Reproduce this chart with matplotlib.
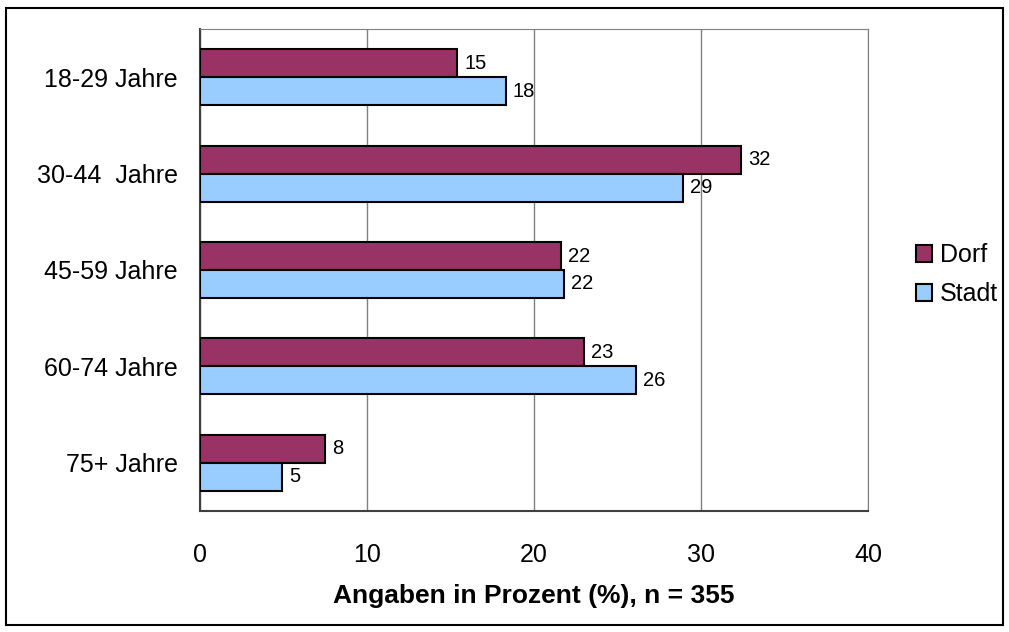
"""
Altersverteilung Dorf vs. Stadt
"""

import matplotlib.pyplot as plt
import numpy as np
from matplotlib.patches import Rectangle

plt.rcParams.update(
    {
        "font.family": ["Liberation Sans", "DejaVu Sans"],
        "font.size": 18,
    }
)

DORF = "#993366"
STADT = "#99CCFF"

categories = ["18-29 Jahre", "30-44  Jahre", "45-59 Jahre", "60-74 Jahre", "75+ Jahre"]
dorf = [15.4, 32.4, 21.6, 23.0, 7.5]
stadt = [18.3, 28.9, 21.8, 26.1, 4.9]
dorf_labels = ["15", "32", "22", "23", "8"]
stadt_labels = ["18", "29", "22", "26", "5"]

fig = plt.figure(figsize=(10.09, 6.32), dpi=100)
ax = fig.add_axes([200 / 1009, 1 - 511 / 632, 668 / 1009, 482 / 632])

y = np.arange(len(categories))
h = 0.29
ax.barh(y - h / 2, dorf, height=h, color=DORF, edgecolor="black", linewidth=1.5, label="Dorf", zorder=3)
ax.barh(y + h / 2, stadt, height=h, color=STADT, edgecolor="black", linewidth=1.5, label="Stadt", zorder=3)

for yi, v, t in zip(y, dorf, dorf_labels):
    ax.annotate(t, (v, yi - h / 2), textcoords="offset points", xytext=(5, 0),
                va="center", ha="left", fontsize=14.5)
for yi, v, t in zip(y, stadt, stadt_labels):
    ax.annotate(t, (v, yi + h / 2), textcoords="offset points", xytext=(5, 0),
                va="center", ha="left", fontsize=14.5)

ax.set_xlim(0, 40)
ax.set_ylim(len(categories) - 0.5, -0.5)
ax.set_yticks(y)
ax.set_yticklabels(categories, fontsize=18)
ax.set_xticks([0, 10, 20, 30, 40])
ax.tick_params(axis="x", labelsize=18, length=0, pad=23)
ax.tick_params(axis="y", length=0, pad=16)
ax.xaxis.grid(True, color="#808080", linewidth=1, zorder=0)
ax.set_xlabel("Angaben in Prozent (%), n = 355", fontsize=19, fontweight="bold", labelpad=12)

for side in ["top", "right"]:
    ax.spines[side].set_color("#808080")
ax.spines["left"].set_color("#404040")
ax.spines["bottom"].set_color("#404040")
ax.spines["left"].set_linewidth(1.5)
ax.spines["bottom"].set_linewidth(1.5)

leg = ax.legend(loc="center left", bbox_to_anchor=(1.053, 0.49), frameon=False,
                fontsize=18, handlelength=0.65, handleheight=0.65, handletextpad=0.3,
                labelspacing=0.6, borderpad=0)

fig.patches.append(Rectangle((6 / 1009, 7 / 632), 997 / 1009, 617 / 632,
                             transform=fig.transFigure, fill=False,
                             edgecolor="black", linewidth=1.5))

fig.savefig("out.png", dpi=100, facecolor="white")
plt.close(fig)
